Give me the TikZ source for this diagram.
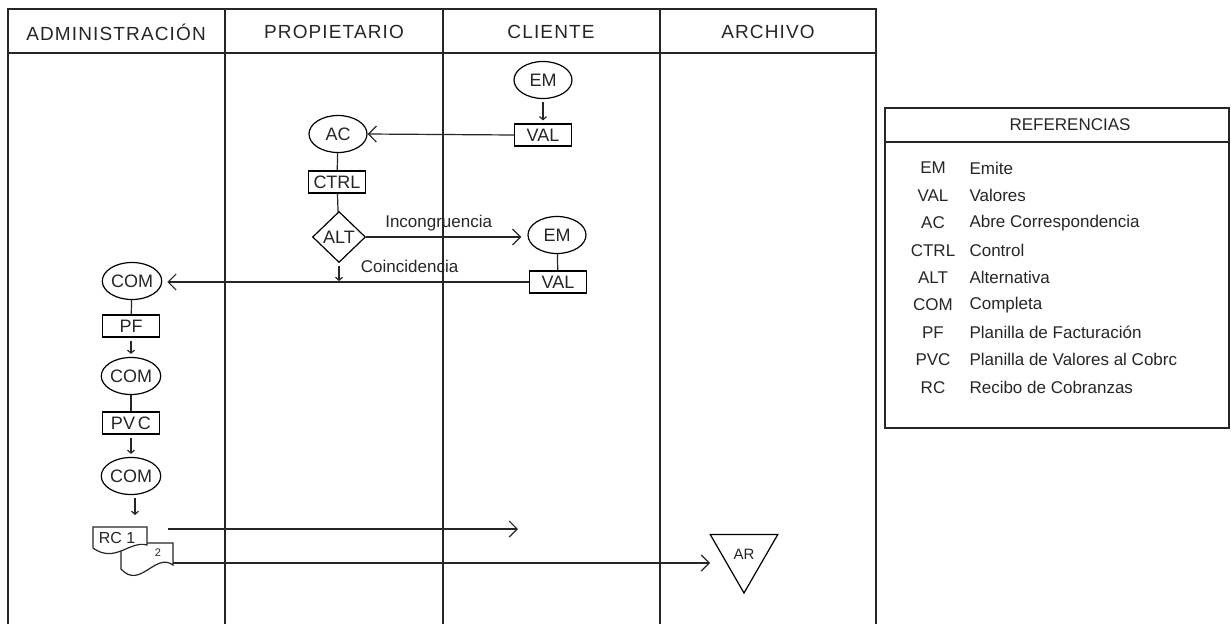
\documentclass[tikz,border=0pt]{standalone}
\usepackage{fontspec}
\setmainfont{Liberation Sans}
\newfontfamily\headfont[LetterSpace=6.0]{Liberation Sans}
\usetikzlibrary{arrows.meta,positioning,shapes.geometric}

\begin{document}
\begin{tikzpicture}[x=1pt, y=-1pt,
        every node/.style={font=\fontsize{18}{20}\selectfont, text=black!85},
        lane/.style={line width=2pt, black!85},
        proc/.style={draw, ellipse, line width=1.2pt, minimum width=58pt, minimum height=37pt, inner sep=0pt},
        form/.style={draw, rectangle, line width=1.2pt, minimum width=57pt, minimum height=22pt, inner sep=0pt},
        altbox/.style={draw, diamond, line width=1.2pt, minimum width=53pt, minimum height=51pt, inner sep=0pt},
        flujo/.style={line width=1.2pt, black!85},
        flecha/.style={flujo, -{Straight Barb[length=8pt,width=16pt,line width=1.2pt]}},
        baja/.style={flujo, -{Straight Barb[length=3pt,width=7pt]}, shorten <=3pt, shorten >=3pt},
        small/.style={font=\fontsize{17}{19}\selectfont}
      ]
        % Rahmen fix
        \useasboundingbox (0,0) rectangle (1231,624);

        % Bahnen
        \draw[lane] (8,624) |- (876,9) -- (876,624);
        \draw[lane] (8,53) -- (876,53);
        \foreach \xx in {225,443,660} {\draw[lane] (\xx,9) -- (\xx,624);}

        \begin{scope}[every node/.style={font=\headfont\fontsize{19}{21}\selectfont, text=black!85}]
          \node (hadm) at (116,32) {ADMINISTRACIÓN};
          \node (hpro) at (334,32) {PROPIETARIO};
          \node (hcli) at (551,32) {CLIENTE};
          \node (harc) at (768,32) {ARCHIVO};
        \end{scope}

        % Knoten
        \node[proc] (emA) at (543,80) {EM};
        \node[form] (valA) at (543,135) {VAL};
        \node[proc] (ac) at (338,134) {AC};
        \node[form] (ctrl) at (337,182) {CTRL};
        \node[altbox] (alt) at (339,237) {ALT};
        \node[proc] (emB) at (557,235) {EM};
        \node[form] (valB) at (558,282) {VAL};
        \node[proc] (com1) at (132,281) {COM};
        \node[form] (pf) at (131,326) {PF};
        \node[proc] (com2) at (131,376) {COM};
        \node[form] (pvc) at (131,423) {PV\,C};
        \node[proc] (com3) at (131,476) {COM};

        % Belege RC
        \draw[flujo, fill=white] (121,543) -- (173,543) -- (173,565)
          .. controls (155,552) and (140,590) .. (121,569) -- cycle;
        \draw[flujo, fill=white] (93,527) -- (147,527) -- (147,545)
          .. controls (130,540) and (115,564) .. (93,548) -- cycle;
        \node[font=\fontsize{16}{18}\selectfont] (rc1) at (117,538) {RC 1};
        \node[font=\fontsize{11}{13}\selectfont] (rc2) at (158,553) {2};
        \coordinate (rcTop) at (135,527);
        \coordinate (rc1out) at (168,529);
        \coordinate (rc1end) at (518,529);
        \coordinate (rc2out) at (173,563);
        \coordinate (rc2end) at (710,563);

        % Archivo
        \node[draw, regular polygon, regular polygon sides=3, shape border rotate=180,
              minimum size=78pt, inner sep=0pt, line width=1.2pt,
              font=\fontsize{15}{17}\selectfont] (ar) at (744,554) {AR};

        % Verbindungen
        \draw[baja] (emA) -- (valA);
        \draw[flecha] (valA.west) -- (ac.east);
        \draw[flujo] (ac) -- (ctrl);
        \draw[flujo] (ctrl) -- (alt);
        \draw[flecha, shorten >=6pt] (alt.east) -- (alt.east -| emB.west)
          node[small, pos=0.45, above=2pt] (incon) {Incongruencia};
        \draw[flujo] (emB) -- (valB);
        \draw[baja, shorten >=1pt] (alt.south) -- (alt.south |- valB.west)
          node[small, pos=0.15, right=18pt] (coin) {Coincidencia};
        \draw[flecha, shorten >=5pt] (valB.west) -- (valB.west -| com1.east);
        \draw[flujo] (com1) -- (pf);
        \draw[baja] (pf) -- (com2);
        \draw[flujo] (com2) -- (pvc);
        \draw[baja] (pvc) -- (com3);
        \draw[baja, shorten >=12pt] (com3.south -| rcTop) -- (rcTop);
        \draw[flecha] (rc1out) -- (rc1end);
        \draw[flecha] (rc2out) -- (rc2end);

        % Referencias
        \draw[lane] (885,108) rectangle (1229,428);
        \draw[lane] (885,142) -- (1229,142);
        \node[small] (refT) at (1070,125) {REFERENCIAS};
        \foreach \ab/\desc [count=\i] in {EM/Emite, VAL/Valores, AC/Abre Correspondencia,
            CTRL/Control, ALT/Alternativa, COM/Completa, PF/Planilla de Facturación,
            PVC/Planilla de Valores al Cobrc, RC/Recibo de Cobranzas} {%
          \node[small] (ab\i) at (933,168+27.4*\i-27.4) {\ab};
          \node[small, anchor=west] (de\i) at (966,168+27.4*\i-27.4) {\desc};
        }
      \end{tikzpicture}
\end{document}
